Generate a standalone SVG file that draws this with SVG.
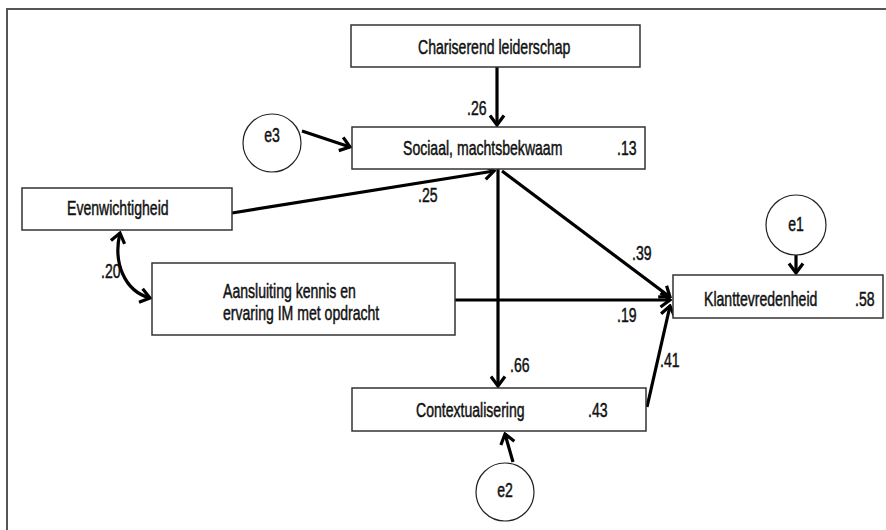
<svg xmlns="http://www.w3.org/2000/svg" width="886" height="530" viewBox="0 0 886 530">
<style>
.box{fill:#fff;stroke:#333;stroke-width:1.5}
.err{fill:#fff;stroke:#222;stroke-width:1.2}
.t{font-family:"Liberation Sans",Arial,sans-serif;font-size:21px;fill:#111;stroke:#111;stroke-width:0.5}
.c{text-anchor:middle}
.con{fill:none;stroke:#000;stroke-width:3.2;marker-end:url(#arr)}
.frame{fill:none;stroke:#555;stroke-width:2}
</style>
<defs>
<marker id="arr" viewBox="-12 -9 14 18" refX="0" refY="0" markerWidth="14" markerHeight="18" markerUnits="userSpaceOnUse" orient="auto-start-reverse">
<path d="M-9.5,-7 L0,0 L-9.5,7" fill="none" stroke="#000" stroke-width="3.2"/>
</marker>
</defs>
<rect x="0" y="0" width="886" height="530" fill="#fff"/>
<path class="frame" d="M7,530 V9 H886"/>
<g id="connectors">
<line class="con" x1="497" y1="67" x2="497" y2="125"/>
<line class="con" x1="302" y1="131" x2="350" y2="147"/>
<line class="con" x1="232" y1="213" x2="494" y2="171"/>
<line class="con" x1="502" y1="171" x2="670" y2="297"/>
<line class="con" x1="498" y1="169" x2="498" y2="386"/>
<line class="con" x1="455" y1="300" x2="670" y2="300"/>
<line class="con" x1="647" y1="407" x2="670" y2="306"/>
<line class="con" x1="796" y1="255" x2="796" y2="273"/>
<line class="con" x1="513" y1="462" x2="505" y2="434"/>
<path class="con" style="marker-start:url(#arr)" d="M120,233 C113,262 124,291 150,298"/>
</g>
<g id="chariserend">
<rect class="box" x="351" y="25" width="289" height="42"/>
<text class="t" transform="translate(418,54) scale(0.67,1)">Chariserend leiderschap</text>
</g>
<g id="sociaal">
<rect class="box" x="352" y="127" width="293" height="42"/>
<text class="t" transform="translate(403,155) scale(0.67,1)">Sociaal, machtsbekwaam</text>
<text class="t" transform="translate(617,155) scale(0.67,1)">.13</text>
</g>
<g id="evenwichtigheid">
<rect class="box" x="22" y="188" width="210" height="42"/>
<text class="t" transform="translate(67,215) scale(0.67,1)">Evenwichtigheid</text>
</g>
<g id="aansluiting">
<rect class="box" x="152" y="263" width="303" height="72"/>
<text class="t" transform="translate(223,298) scale(0.67,1)">Aansluiting kennis en</text>
<text class="t" transform="translate(223,320) scale(0.67,1)">ervaring IM met opdracht</text>
</g>
<g id="klanttevredenheid">
<rect class="box" x="673" y="275" width="210" height="43"/>
<text class="t" transform="translate(704,306) scale(0.67,1)">Klanttevredenheid</text>
<text class="t" transform="translate(855,306) scale(0.67,1)">.58</text>
</g>
<g id="contextualisering">
<rect class="box" x="352" y="388" width="294" height="43"/>
<text class="t" transform="translate(416,417) scale(0.67,1)">Contextualisering</text>
<text class="t" transform="translate(588,417) scale(0.67,1)">.43</text>
</g>
<g id="e3">
<circle class="err" cx="272" cy="143" r="29"/>
<text class="t c" transform="translate(272,142) scale(0.67,1)">e3</text>
</g>
<g id="e1">
<circle class="err" cx="796" cy="225" r="30"/>
<text class="t c" transform="translate(796,231) scale(0.67,1)">e1</text>
</g>
<g id="e2">
<circle class="err" cx="505" cy="492" r="29"/>
<text class="t c" transform="translate(505,497) scale(0.67,1)">e2</text>
</g>
<g id="labels">
<text class="t" transform="translate(467,115) scale(0.67,1)">.26</text>
<text class="t" transform="translate(418,202) scale(0.67,1)">.25</text>
<text class="t" transform="translate(101,278) scale(0.67,1)">.20</text>
<text class="t" transform="translate(632,260) scale(0.67,1)">.39</text>
<text class="t" transform="translate(617,322) scale(0.67,1)">.19</text>
<text class="t" transform="translate(510,372) scale(0.67,1)">.66</text>
<text class="t" transform="translate(660,367) scale(0.67,1)">.41</text>
</g>
</svg>
